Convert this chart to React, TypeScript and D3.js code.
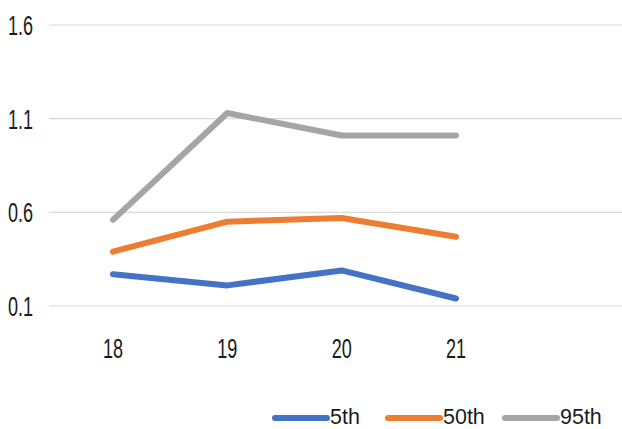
import React from "react";
import * as d3 from "d3";

const categories = ["18", "19", "20", "21"];
const seriesNames = ["5th", "50th", "95th"];
const p5 = [0.27, 0.21, 0.29, 0.14];
const p50 = [0.39, 0.55, 0.57, 0.47];
const p95 = [0.56, 1.13, 1.01, 1.01];
const yTicks = [0.1, 0.6, 1.1, 1.6];
const colors = ["#4472C4", "#ED7D31", "#A5A5A5"];

const W = 622;
const H = 429;
const FONT = "'Liberation Sans', Arial, sans-serif";

function Label({
  x,
  y,
  anchor = "start",
  sx,
  sy,
  children,
}: {
  x: number;
  y: number;
  anchor?: string;
  sx: number;
  sy: number;
  children: React.ReactNode;
}) {
  return (
    <text
      transform={`translate(${x},${y}) scale(${sx},${sy})`}
      dy="0.36em"
      textAnchor={anchor}
      fontFamily={FONT}
      fontSize={19}
      fill="#1a1a1a"
    >
      {children}
    </text>
  );
}

export default function App() {
  const x = d3.scalePoint<string>().domain(categories).range([113, 456]);
  const y = d3.scaleLinear().domain([0.1, 1.6]).range([306, 25]);
  const series = [p5, p50, p95];
  const line = d3
    .line<number>()
    .x((_, i) => x(categories[i]) as number)
    .y((d) => y(d));

  const legendX = [275, 388, 505];
  const legendY = 418;

  return (
    <svg
      width={W}
      height={H}
      style={{ position: "absolute", left: 0, top: 0, background: "#fff" }}
    >
      <rect x={0} y={0} width={W} height={H} fill="#fff" />
      {yTicks.map((t) => (
        <g key={t}>
          <line x1={49} x2={W} y1={y(t)} y2={y(t)} stroke="#d9d9d9" strokeWidth={1.2} />
          <Label x={8} y={y(t)} sx={0.95} sy={1.45}>
            {t.toFixed(1)}
          </Label>
        </g>
      ))}
      {categories.map((c) => (
        <Label key={c} x={x(c) as number} y={348} anchor="middle" sx={0.95} sy={1.45}>
          {c}
        </Label>
      ))}
      {series.map((s, i) => (
        <path
          key={seriesNames[i]}
          d={line(s) as string}
          fill="none"
          stroke={colors[i]}
          strokeWidth={6}
          strokeLinejoin="round"
          strokeLinecap="round"
        />
      ))}
      {seriesNames.map((n, i) => (
        <g key={n}>
          <line
            x1={legendX[i]}
            x2={legendX[i] + 52}
            y1={legendY}
            y2={legendY}
            stroke={colors[i]}
            strokeWidth={6}
            strokeLinecap="round"
          />
          <Label x={legendX[i] + 55} y={416} sx={1.13} sy={1.15}>
            {n}
          </Label>
        </g>
      ))}
    </svg>
  );
}
